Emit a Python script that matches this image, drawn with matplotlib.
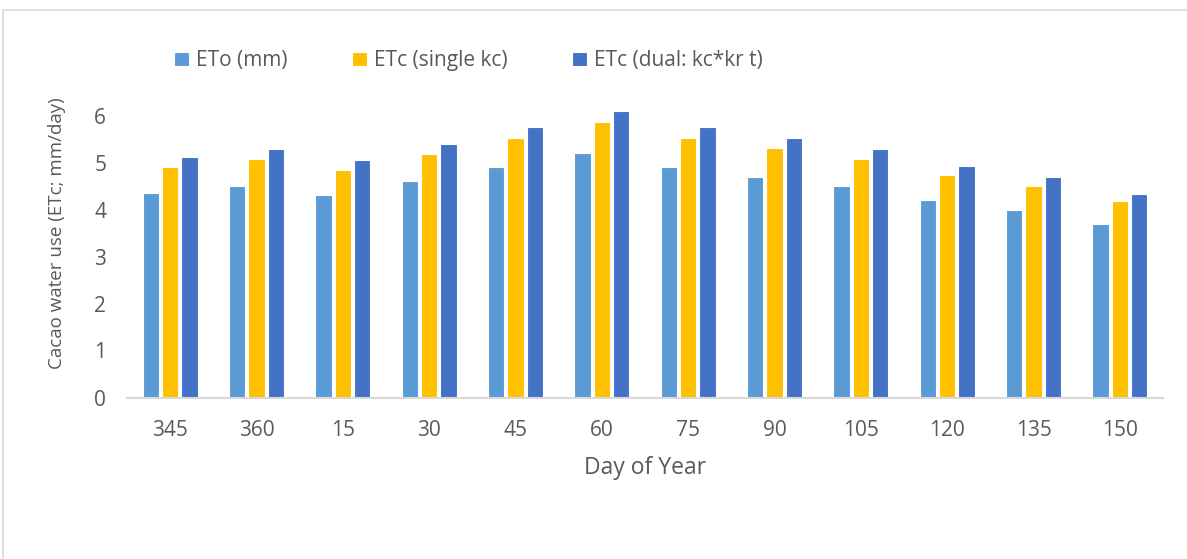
import matplotlib
matplotlib.use("Agg")
import matplotlib.pyplot as plt
import numpy as np
from matplotlib.patches import Rectangle

days = ["345", "360", "15", "30", "45", "60", "75", "90", "105", "120", "135", "150"]
eto = [4.35, 4.5, 4.3, 4.6, 4.9, 5.2, 4.9, 4.7, 4.5, 4.2, 4.0, 3.7]
etc_single = [4.91, 5.07, 4.85, 5.19, 5.53, 5.87, 5.53, 5.3, 5.07, 4.74, 4.51, 4.18]
etc_dual = [5.11, 5.28, 5.05, 5.4, 5.75, 6.1, 5.75, 5.52, 5.28, 4.93, 4.69, 4.34]
series_names = ["ETo (mm)", "ETc (single kc)", "ETc (dual: kc*kr t)"]
colors = ["#5B9BD5", "#FFC000", "#4472C4"]

plt.rcParams['font.family'] = ['Open Sans', 'DejaVu Sans']
txt = "#595959"

W, H = 1187, 559
fig = plt.figure(figsize=(W / 100, H / 100), dpi=100)
fig.patches.append(Rectangle((3 / W, -0.1), 1.2, (H - 10) / H + 0.1, transform=fig.transFigure,
                             fill=False, edgecolor="#D9D9D9", linewidth=1.2))

ax = fig.add_axes([127 / W, (H - 397.5) / H, (1163 - 127) / W, 329 / H])
x = np.arange(len(days))
step = 0.224
width = 0.19
for i, (vals, name, c) in enumerate(zip([eto, etc_single, etc_dual], series_names, colors)):
    ax.bar(x + (i - 1) * step, vals, width=width, color=c, edgecolor="white", linewidth=0.8, label=name)

ax.set_xlim(-0.5, len(days) - 0.5)
ax.set_ylim(0, 7)
ax.set_yticks(range(0, 7))
ax.set_xticks(x)
ax.set_xticklabels(days)
for s in ["top", "right", "left"]:
    ax.spines[s].set_visible(False)
ax.spines["bottom"].set_color("#D9D9D9")
ax.spines["bottom"].set_linewidth(1.5)
ax.tick_params(axis="both", length=0, labelsize=15, labelcolor=txt)
ax.tick_params(axis="x", pad=16)
ax.tick_params(axis="y", pad=15)
ax.set_xlabel("Day of Year", fontsize=16.5, color=txt, labelpad=11)
ax.set_ylabel("Cacao water use (ETc; mm/day)", fontsize=13.5, color=txt, labelpad=20)

leg = ax.legend(loc="center left", bbox_to_anchor=(164 / W, 1 - 61 / H), bbox_transform=fig.transFigure,
                ncol=3, frameon=False, fontsize=15, handlelength=0.7, handleheight=0.7,
                handletextpad=0.35, columnspacing=3.1, borderpad=0, labelcolor=txt)

fig.savefig("out.png", dpi=100)
